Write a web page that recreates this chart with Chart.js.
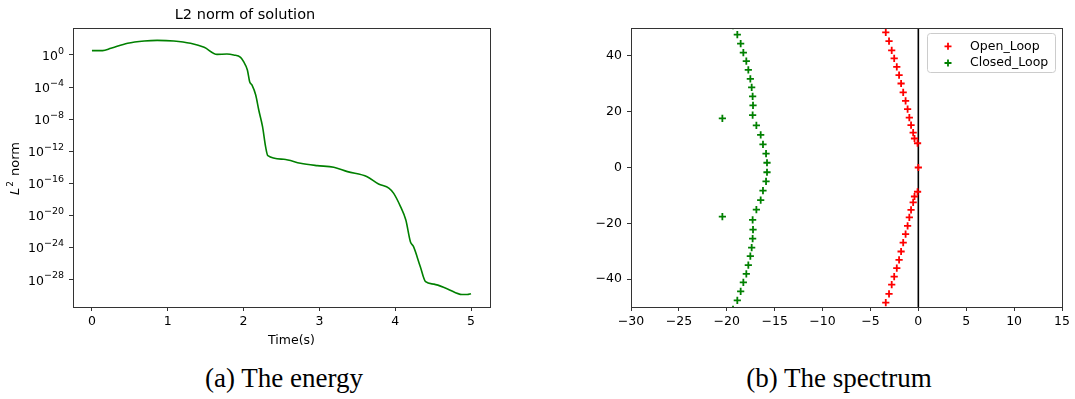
<!DOCTYPE html>
<html lang="en">
<head>
<meta charset="UTF-8">
<title>L2 norm and spectrum</title>
<script src="https://cdn.jsdelivr.net/npm/chart.js@4"></script>
<style>
  body { margin: 0; background: #fff; }
  #wrap { position: relative; width: 1075px; height: 399px; }
  #energy { position: absolute; left: 0; top: 0; }
  #spectrum { position: absolute; left: 540px; top: 0; }
  .cap { position: absolute; top: 365px; font-family: "Liberation Serif", serif; font-size: 27px; line-height: 27px; color: #000; transform: translateX(-50%); white-space: nowrap; }
</style>
</head>
<body>
<div id="wrap">
  <canvas id="energy" width="530" height="350"></canvas>
  <canvas id="spectrum" width="535" height="350"></canvas>
  <div class="cap" style="left:284px">(a) The energy</div>
  <div class="cap" style="left:839px">(b) The spectrum</div>
</div>
<script>
// --- energy plot: time and log10 of the L2 norm
const times = [0, 0.14, 0.25, 0.47, 0.69, 0.86, 1.08, 1.30, 1.48, 1.65, 1.78, 1.87, 1.96, 2.0, 2.05, 2.08,
  2.11, 2.16, 2.20, 2.25, 2.29, 2.32, 2.53, 2.75, 2.97, 3.19, 3.37, 3.63, 3.78, 3.92, 3.98,
  4.07, 4.14, 4.20, 4.24, 4.33, 4.40, 4.51, 4.69, 4.88, 4.95, 5.0];
const normExp = [0.54, 0.54, 0.83, 1.46, 1.75, 1.83, 1.75, 1.46, 0.96, 0.08, 0.12, 0.0, -0.29, -0.83, -1.87, -3.33,
  -3.74, -5.0, -6.87, -8.95, -11.44, -12.57, -13.02, -13.52, -13.81, -14.02, -14.56, -15.19, -16.1, -16.64, -17.27,
  -18.93, -20.6, -23.3, -23.9, -26.4, -28.3, -28.6, -29.2, -29.9, -29.9, -29.8];
const timeTicks = [0, 1, 2, 3, 4, 5];
const expTicks = [0, -4, -8, -12, -16, -20, -24, -28];

// --- spectrum plot
const openRe = [-3.40, -3.06, -2.78, -2.52, -2.25, -2.01, -1.80, -1.58, -1.33, -1.12, -0.94, -0.76, -0.54, -0.40, -0.08,
  0.0,
  -0.08, -0.40, -0.54, -0.76, -0.94, -1.12, -1.33, -1.58, -1.80, -2.01, -2.25, -2.52, -2.78, -3.06, -3.40];
const openIm = [48.4, 45.3, 42.0, 39.1, 36.1, 33.1, 30.1, 26.9, 23.9, 20.9, 17.9, 15.2, 12.5, 10.4, 8.7,
  0.0,
  -8.7, -10.4, -12.5, -15.2, -17.9, -20.9, -23.9, -26.9, -30.1, -33.1, -36.1, -39.1, -42.0, -45.3, -48.4];
const closedRe = [-19.35, -18.9, -18.55, -18.27, -17.96, -17.75, -17.54, -17.40, -17.30, -17.26, -17.30, -16.91, -16.46, -16.22, -15.90, -15.80,
  -15.80, -15.90, -16.22, -16.46, -16.91, -17.30, -17.26, -17.30, -17.40, -17.54, -17.75, -17.96, -18.27, -18.55, -18.9, -19.35,
  -20.46, -20.46];
const closedIm = [50.8, 47.6, 44.4, 41.2, 38.1, 35.0, 31.8, 28.7, 25.5, 22.3, 18.8, 15.1, 11.7, 8.3, 5.0, 1.7,
  -1.7, -5.0, -8.3, -11.7, -15.1, -18.8, -22.3, -25.5, -28.7, -31.8, -35.0, -38.1, -41.2, -44.4, -47.6, -50.8,
  17.6, -17.6];
const reTicks = [-30, -25, -20, -15, -10, -5, 0, 5, 10, 15];
const imTicks = [-40, -20, 0, 20, 40];
const zeroLine = [{x: 0, y: -50}, {x: 0, y: 50}];

const FONT = 'DejaVu Sans';
const TICK = 12.5;
function minus(v) { return String(v).replace('-', '\u2212'); }

// draws the full axes box like matplotlib spines
const frame = {
  id: 'frame',
  afterDraw(chart) {
    const a = chart.chartArea, c = chart.ctx;
    c.save();
    c.strokeStyle = '#333';
    c.lineWidth = 1;
    c.strokeRect(Math.round(a.left) + 0.5, Math.round(a.top) + 0.5, Math.round(a.right - a.left), Math.round(a.bottom - a.top));
    c.restore();
  }
};

// 10^n tick labels with a real raised exponent, plus the x label and the y label with italic L
const energyLabels = {
  id: 'energyLabels',
  afterDraw(chart) {
    const a = chart.chartArea, c = chart.ctx, ys = chart.scales.y;
    c.save();
    c.fillStyle = '#000';
    c.textBaseline = 'middle';
    expTicks.forEach(e => {
      const y = ys.getPixelForValue(Math.pow(10, e));
      const ex = minus(e);
      c.font = '9.5px ' + FONT;
      const wExp = c.measureText(ex).width;
      c.font = TICK + 'px ' + FONT;
      const wBase = c.measureText('10').width;
      const right = a.left - 9;
      c.textAlign = 'left';
      c.fillText('10', right - wExp - wBase, y + 2);
      c.font = '9.5px ' + FONT;
      c.fillText(ex, right - wExp, y - 3.5);
    });
    // x label, a little right of centre in the original
    c.font = TICK + 'px ' + FONT;
    c.textAlign = 'center';
    c.fillText('Time(s)', (a.left + a.right) / 2 + 10, 341);
    // y label
    c.translate(16, (a.top + a.bottom) / 2 + 1);
    c.rotate(-Math.PI / 2);
    c.textAlign = 'left';
    c.font = 'italic 13px ' + FONT;
    const wL = c.measureText('L').width;
    c.font = '9px ' + FONT;
    const w2 = c.measureText('2').width;
    c.font = '13px ' + FONT;
    const wN = c.measureText(' norm').width;
    let x0 = -(wL + w2 + 2 + wN) / 2;
    c.font = 'italic 13px ' + FONT;
    c.fillText('L', x0, 0);
    c.font = '9px ' + FONT;
    c.fillText('2', x0 + wL + 1, -5);
    c.font = '13px ' + FONT;
    c.fillText(' norm', x0 + wL + w2 + 2, 0);
    c.restore();
  }
};

function tickGrid() {
  return { drawOnChartArea: false, color: '#333', tickLength: 4, tickWidth: 1 };
}

Chart.defaults.font.family = FONT;
Chart.defaults.color = '#000';

new Chart(document.getElementById('energy'), {
  type: 'line',
  data: {
    datasets: [{
      data: times.map((t, i) => ({x: t, y: Math.pow(10, normExp[i])})),
      borderColor: '#008000',
      borderWidth: 1.6,
      pointRadius: 0,
      cubicInterpolationMode: 'monotone',
      fill: false
    }]
  },
  options: {
    responsive: false,
    animation: false,
    layout: { padding: { left: 0, right: 40, top: 0, bottom: 0 } },
    plugins: {
      legend: { display: false },
      tooltip: { enabled: false },
      title: {
        display: true, text: 'L2 norm of solution',
        font: { family: FONT, size: 14.5, weight: 'normal', lineHeight: 1.2 },
        padding: { top: 6.6, bottom: 4 }, color: '#000'
      }
    },
    scales: {
      x: {
        type: 'linear', min: -0.25, max: 5.25,
        afterBuildTicks: s => { s.ticks = timeTicks.map(v => ({value: v})); },
        afterFit: s => { s.height = 43; },
        grid: tickGrid(), border: { display: false },
        ticks: { font: { size: TICK }, padding: 3, maxRotation: 0 }
      },
      y: {
        type: 'logarithmic', min: Math.pow(10, -31.46), max: Math.pow(10, 3.37),
        afterBuildTicks: s => { s.ticks = expTicks.map(e => ({value: Math.pow(10, e)})); },
        afterFit: s => { s.width = 73; },
        grid: tickGrid(), border: { display: false },
        ticks: { display: false }
      }
    }
  },
  plugins: [frame, energyLabels]
});

const legendBox = {
  id: 'legendBox',
  afterDraw(chart) {
    const a = chart.chartArea, c = chart.ctx;
    const w = 128, h = 39, x = a.right - 7 - w, y = a.top + 5;
    c.save();
    c.fillStyle = 'rgba(255,255,255,0.8)';
    c.strokeStyle = '#ccc';
    c.lineWidth = 1;
    c.beginPath();
    c.roundRect(Math.round(x) + 0.5, Math.round(y) + 0.5, w, h, 3);
    c.fill(); c.stroke();
    const items = [['Open_Loop', '#ff0000'], ['Closed_Loop', '#008000']];
    items.forEach(([label, col], i) => {
      const my = y + 13.3 + i * 16.7, mx = x + 21;
      c.strokeStyle = col; c.lineWidth = 1.8;
      c.beginPath();
      c.moveTo(mx - 3.5, my); c.lineTo(mx + 3.5, my);
      c.moveTo(mx, my - 3.5); c.lineTo(mx, my + 3.5);
      c.stroke();
      c.fillStyle = '#000';
      c.font = TICK + 'px ' + FONT;
      c.textBaseline = 'middle';
      c.fillText(label, x + 43, my);
    });
    c.restore();
  }
};

new Chart(document.getElementById('spectrum'), {
  type: 'scatter',
  data: {
    datasets: [
      {
        label: 'Open_Loop',
        data: openRe.map((r, i) => ({x: r, y: openIm[i]})),
        pointStyle: 'cross', pointRadius: 3.6, borderWidth: 1.8,
        borderColor: '#ff0000', backgroundColor: '#ff0000'
      },
      {
        label: 'Closed_Loop',
        data: closedRe.map((r, i) => ({x: r, y: closedIm[i]})),
        pointStyle: 'cross', pointRadius: 3.6, borderWidth: 1.8,
        borderColor: '#008000', backgroundColor: '#008000'
      },
      {
        type: 'line', data: zeroLine,
        borderColor: '#000', borderWidth: 1.6, pointRadius: 0, showLine: true
      }
    ]
  },
  options: {
    responsive: false,
    animation: false,
    layout: { padding: { left: 0, right: 13, top: 28, bottom: 0 } },
    plugins: { legend: { display: false }, tooltip: { enabled: false } },
    scales: {
      x: {
        type: 'linear', min: -30, max: 15,
        afterBuildTicks: s => { s.ticks = reTicks.map(v => ({value: v})); },
        afterFit: s => { s.height = 43; },
        grid: tickGrid(), border: { display: false },
        ticks: { font: { size: TICK }, padding: 3, maxRotation: 0, callback: v => minus(v) }
      },
      y: {
        type: 'linear', min: -50, max: 50,
        afterBuildTicks: s => { s.ticks = imTicks.map(v => ({value: v})); },
        afterFit: s => { s.width = 91; },
        grid: tickGrid(), border: { display: false },
        ticks: { font: { size: TICK }, padding: 5, callback: v => minus(v) }
      }
    }
  },
  plugins: [frame, legendBox]
});
</script>
</body>
</html>
